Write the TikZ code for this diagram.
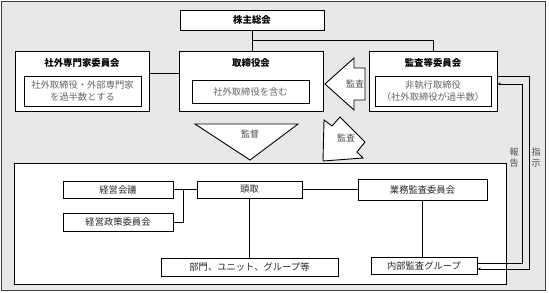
\documentclass[tikz,border=0pt]{standalone}
\usepackage{fontspec}
\setmainfont{Noto Sans CJK JP}
\usetikzlibrary{arrows.meta, calc}

\begin{document}
\begin{tikzpicture}[x=1pt, y=-1pt, line width=0.9pt,
        box/.style={draw, fill=white, rectangle, inner sep=0pt},
        title/.style={font=\bfseries\fontsize{9.4}{11}\selectfont},
        note/.style={text=black!60, align=center, font=\fontsize{9.3}{12}\selectfont},
        unit/.style={box, text=black!85, font=\fontsize{9.3}{11}\selectfont},
        bigarrow/.style={draw, fill=white, line join=miter},
        link/.style={-{Latex[length=3pt, width=3pt]}}]

        % Frame
        \useasboundingbox (0,0) rectangle (549,292);
        \draw[fill=black!9, draw=black!75] (1,1) rectangle (545,290);

        % Executive block
        \node[box, minimum width=492, minimum height=121] (execbox) at (260,223.5) {};

        % Shareholders and board level
        \node[box, title, minimum width=144, minimum height=20] (gms) at (252,20) {株主総会};

        \node[box, minimum width=134, minimum height=60] (expert) at (82,81) {};
        \node[title] (experttitle) at (82,63) {社外専門家委員会};
        \node[box, note, minimum width=117, minimum height=30] (expertnote) at (82.5,91) {社外取締役・外部専門家\\を過半数とする};

        \node[box, minimum width=144, minimum height=60] (board) at (251,81) {};
        \node[title] (boardtitle) at (251,63) {取締役会};
        \node[box, note, minimum width=117, minimum height=23] (boardnote) at (250.5,91.5) {社外取締役を含む};

        \node[box, minimum width=128, minimum height=60] (audit) at (433,81) {};
        \node[title] (audittitle) at (433,63) {監査等委員会};
        \node[box, note, minimum width=116, minimum height=30] (auditnote) at (433,91) {非執行取締役\\（社外取締役が過半数）};

        % Board level links
        \coordinate (gmsjoin) at ($(gms.south)!0.5!(gms.south |- board.north)$);
        \draw (gms.south) -- (gms.south |- board.north);
        \draw (gmsjoin) -| (audit.north);
        \draw ([yshift=8pt]expert.east) -- ([yshift=8pt]board.west);

        % Audit arrow (left)
        \draw[bigarrow] (325,84) -- (354,58) -- (354,68) -- (365,68) -- (365,100) -- (354,100) -- (354,110) -- cycle;
        \node[text=black!70, font=\fontsize{9}{11}\selectfont] (auditlabel) at (355,84) {監査};

        % Supervision triangle
        \draw[bigarrow] (195,124) -- (298,124) -- (250,160) -- cycle;
        \node[text=black!70, font=\fontsize{9}{11}\selectfont] (supervlabel) at (250,134) {監督};

        % Audit arrow (diagonal)
        \draw[bigarrow] (324,120) -- (332,126) -- (340,117) -- (365,142) -- (357,152) -- (363,158) -- (323,161) -- cycle;
        \node[text=black!70, font=\fontsize{9}{11}\selectfont] (diaglabel) at (346,138) {監査};

        % Executive units
        \node[unit, minimum width=110, minimum height=17] (meeting) at (118,189.5) {経営会議};
        \node[unit, minimum width=110, minimum height=18] (policy) at (118,222) {経営政策委員会};
        \node[unit, minimum width=105, minimum height=17] (president) at (249.5,189.5) {頭取};
        \node[unit, minimum width=177, minimum height=18] (units) at (249.5,267) {部門、ユニット、グループ等};
        \node[unit, minimum width=129, minimum height=21] (bizaudit) at (422.5,189.5) {業務監査委員会};
        \node[unit, minimum width=106, minimum height=17] (internal) at (424,265.5) {内部監査グループ};

        % Executive links
        \coordinate (meetjoin) at ($(meeting.east)+(10,0)$);
        \draw (meeting.east) -- (president.west);
        \draw (policy.east) -| (meetjoin);
        \draw (president.south) -- (president.south |- units.north);
        \draw (president.east) -- (bizaudit.west);
        \draw (bizaudit.south) -- (bizaudit.south |- internal.north);

        % Report and instruction
        \draw[link] ([yshift=2.5pt]internal.east) -- ++(45,0) |- ([yshift=-3pt]audit.east);
        \draw[link] ([yshift=5pt]audit.east) -- ++(32,0) |- ([yshift=-3.5pt]internal.east);
        \node[text=black!70, align=center, font=\fontsize{9}{11}\selectfont] (reportlabel) at (514,158) {報\\告};
        \node[text=black!70, align=center, font=\fontsize{9}{11}\selectfont] (orderlabel) at (536,158) {指\\示};
    \end{tikzpicture}
\end{document}
